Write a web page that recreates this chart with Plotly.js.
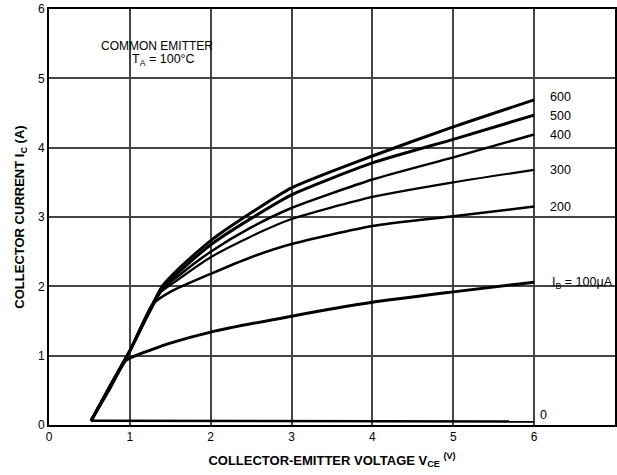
<!DOCTYPE html>
<html>
<head>
<meta charset="utf-8">
<script src="https://cdn.plot.ly/plotly-3.0.1.min.js"></script>
<style>html,body{margin:0;padding:0;background:#fff}#chart{width:617px;height:475px}</style>
</head>
<body>
<div id="chart"></div>
<script>
// Collector characteristics, TA = 100°C (IB in µA)
const ib0_x   = [0.52, 6.0];
const ib0_y   = [0.06, 0.05];
const ib100_x = [0.52, 0.75, 0.95, 1.05, 1.5, 2.0, 3.0, 4.0, 5.0, 6.0];
const ib100_y = [0.06, 0.52, 0.93, 0.99, 1.18, 1.34, 1.57, 1.77, 1.92, 2.06];
const ib200_x = [0.52, 0.75, 1.0, 1.28, 1.5, 2.0, 2.5, 3.0, 4.0, 5.0, 6.0];
const ib200_y = [0.06, 0.55, 1.07, 1.74, 1.92, 2.18, 2.42, 2.61, 2.87, 3.01, 3.15];
const ib300_x = [0.52, 0.75, 1.0, 1.35, 1.6, 2.0, 2.5, 3.0, 4.0, 5.0, 6.0];
const ib300_y = [0.06, 0.55, 1.07, 1.88, 2.1, 2.42, 2.72, 2.97, 3.29, 3.50, 3.68];
const ib400_x = [0.52, 0.75, 1.0, 1.4, 1.6, 2.0, 2.5, 3.0, 4.0, 5.0, 6.0];
const ib400_y = [0.06, 0.55, 1.07, 1.95, 2.15, 2.5, 2.85, 3.13, 3.54, 3.86, 4.19];
const ib500_x = [0.52, 0.75, 1.0, 1.4, 1.6, 2.0, 2.5, 3.0, 4.0, 5.0, 6.0];
const ib500_y = [0.06, 0.55, 1.07, 1.98, 2.2, 2.6, 2.98, 3.32, 3.78, 4.12, 4.47];
const ib600_x = [0.52, 0.75, 1.0, 1.4, 1.6, 2.0, 2.5, 3.0, 4.0, 5.0, 6.0];
const ib600_y = [0.06, 0.55, 1.07, 2.0, 2.25, 2.66, 3.06, 3.42, 3.88, 4.30, 4.69];

const curveLabels = ["600", "500", "400", "300", "200", "I<sub>B</sub> = 100\u03bcA", "0"];
const xTickVals = [0, 1, 2, 3, 4, 5, 6, 7];
const yTickVals = [0, 1, 2, 3, 4, 5, 6];

const FONT = "Liberation Sans, Arial, Helvetica, sans-serif";

function curve(x, y, w) {
  return {x: x, y: y, type: "scatter", mode: "lines",
          line: {color: "#000", width: w, shape: "spline", smoothing: 0.6},
          hoverinfo: "skip"};
}

const data = [
  curve(ib0_x, ib0_y, 2.5),
  curve(ib100_x, ib100_y, 3),
  curve(ib200_x, ib200_y, 2.5),
  curve(ib300_x, ib300_y, 2.2),
  curve(ib400_x, ib400_y, 2.5),
  curve(ib500_x, ib500_y, 3),
  curve(ib600_x, ib600_y, 3)
];

const labelY = [4.73, 4.45, 4.18, 3.68, 3.15, 2.05, 0.15];
const labelX = [6.17, 6.17, 6.17, 6.17, 6.17, 6.2, 6.05];
const annotations = curveLabels.map((t, i) => ({
  x: labelX[i], y: labelY[i], xref: "x", yref: "y", text: t,
  showarrow: false, xanchor: "left", yanchor: "middle",
  font: {family: FONT, size: 12.5, color: "#000"}
}));
annotations.push({
  x: 1.33, y: 5.47, xref: "x", yref: "y", text: "COMMON EMITTER",
  showarrow: false, xanchor: "center", yanchor: "middle",
  font: {family: FONT, size: 12, color: "#000"}
});
annotations.push({
  x: 1.42, y: 5.26, xref: "x", yref: "y", text: "T<sub>A</sub> = 100\u00b0C",
  showarrow: false, xanchor: "center", yanchor: "middle",
  font: {family: FONT, size: 12.5, color: "#000"}
});

const layout = {
  width: 617, height: 475,
  margin: {l: 49, r: 2, t: 9, b: 50},
  paper_bgcolor: "#fff", plot_bgcolor: "#fff",
  showlegend: false,
  font: {family: FONT, size: 12, color: "#000"},
  xaxis: {
    range: [0, 7], tickvals: xTickVals, ticks: "", ticklen: 0,
    showgrid: true, gridcolor: "#444", gridwidth: 2,
    showline: true, linecolor: "#000", linewidth: 2, mirror: true,
    zeroline: false, tickfont: {family: FONT, size: 12, color: "#000"},
    title: {text: "<b>COLLECTOR-EMITTER VOLTAGE V<sub>CE</sub> <sup>(V)</sup></b>",
            font: {family: FONT, size: 13, color: "#000"}, standoff: 12}
  },
  yaxis: {
    range: [0, 6], tickvals: yTickVals, ticks: "", ticklen: 0,
    showgrid: true, gridcolor: "#444", gridwidth: 2,
    showline: true, linecolor: "#000", linewidth: 2, mirror: true,
    zeroline: false, tickfont: {family: FONT, size: 12, color: "#000"},
    title: {text: "<b>COLLECTOR CURRENT I<sub>C</sub> (A)</b>",
            font: {family: FONT, size: 13, color: "#000"}, standoff: 10}
  },
  annotations: annotations
};

Plotly.newPlot("chart", data, layout, {displayModeBar: false, staticPlot: true});
</script>
</body>
</html>
